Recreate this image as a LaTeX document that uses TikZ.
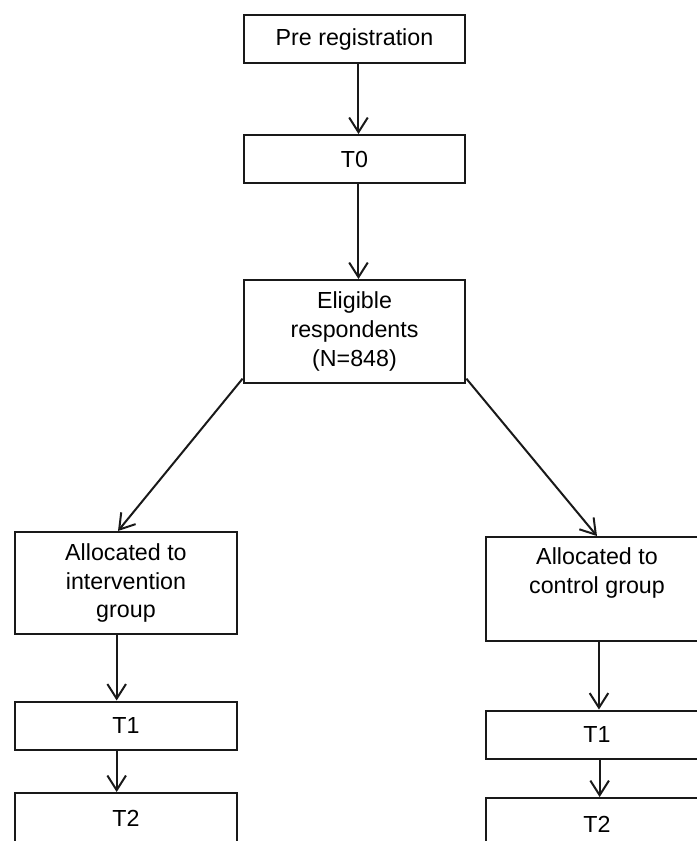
\documentclass[tikz,border=0pt]{standalone}
\usepackage{fontspec}
\setmainfont{Liberation Sans}
\usepackage{tikz}
\usetikzlibrary{shapes.geometric, arrows.meta}
\tikzstyle{process} = [rectangle, minimum width=5.87cm, minimum height=1.27cm, inner sep=0pt, align=center, draw=black!90, line width=1.5pt, font=\fontsize{17.5}{21.5}\selectfont]
\tikzstyle{arrow}   = [line width=1.5pt, draw=black!90, -{Straight Barb[length=11pt,width=14pt]}]

\begin{document}
\begin{tikzpicture}[node distance=1cm]
      \useasboundingbox (-9.379,1.032) rectangle (9.062,-21.219);
      \clip (-9.379,1.032) rectangle (9.062,-21.219);
      % Nodes
      %% Baseline
      \node (pre_registration)   [process]                                                  {Pre registration};
      \node (t_zero)             [process, below of=pre_registration, yshift=-2.175cm]      {T0};
      \node (eligible)           [process, minimum height=2.725cm, below of=t_zero, yshift=-3.564cm] {Eligible\\respondents\\(N=848)};
      %%% Left branch
      \node (intervention)       [process, minimum height=2.70cm, below of=eligible, xshift=-6.046cm, yshift=-5.654cm] {Allocated to\\intervention\\group};
      \node (t_one_int)          [process, below of=intervention, yshift=-2.77cm]          {T1};
      \node (t_two_int)          [process, minimum height=1.32cm, below of=t_one_int, yshift=-1.446cm] {T2};
      %%% Right branch
      \node (control)            [process, minimum height=2.75cm, below of=eligible, xshift=6.416cm, yshift=-5.813cm] {Allocated to\\control group\\\strut};
      \node (t_one_ctrl)         [process, below of=control, yshift=-2.85cm]               {T1};
      \node (t_two_ctrl)         [process, minimum height=1.40cm, below of=t_one_ctrl, yshift=-1.381cm] {T2};

      % % Arrows
      \draw [arrow] ([xshift=3pt]pre_registration.south) -- ([xshift=3pt]t_zero.north);
      \draw [arrow] ([xshift=3pt]t_zero.south)           -- ([xshift=3pt]eligible.north);
      \draw [arrow] ([yshift=4pt]eligible.south west)    -- ([xshift=-6pt]intervention.north);
      \draw [arrow] ([yshift=4pt]eligible.south east)    -- (control.north);
      \draw [arrow] ([xshift=-7pt]intervention.south)    -- ([xshift=-7pt]t_one_int.north);
      \draw [arrow] ([xshift=-7pt]t_one_int.south)       -- ([xshift=-7pt]t_two_int.north);
      \draw [arrow] ([xshift=1.5pt]control.south)        -- ([xshift=1.5pt]t_one_ctrl.north);
      \draw [arrow] ([xshift=2pt]t_one_ctrl.south)       -- ([xshift=2pt]t_two_ctrl.north);
    \end{tikzpicture}
\end{document}
